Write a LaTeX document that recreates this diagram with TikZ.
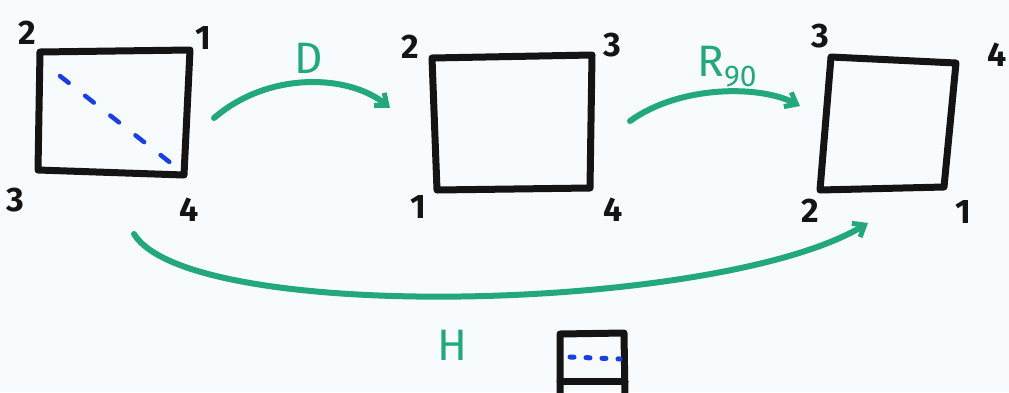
\documentclass[tikz,border=0pt]{standalone}
\usepackage{fontspec}
\setmainfont{Fira Sans}
\usetikzlibrary{arrows.meta}
\definecolor{mkgreen}{HTML}{22A87A}
\definecolor{mkblue}{HTML}{1A3FE0}
\definecolor{mkblack}{HTML}{141414}
\definecolor{board}{HTML}{F8FBFE}
\tikzset{
  sq/.style={draw=mkblack, line width=7pt, line join=round, line cap=round},
  diag/.style={draw=mkblue, line width=4.5pt, line cap=round, dash pattern=on 11pt off 21pt},
  dots/.style={draw=mkblue, line width=5pt, line cap=round, dash pattern=on 4pt off 12pt},
  garrow/.style={draw=mkgreen, line width=6pt, line cap=round, -{Straight Barb[length=10pt,width=16pt,line width=5pt]}},
  num/.style={text=mkblack, font=\fontsize{34}{34}\selectfont\bfseries, inner sep=0pt},
  glab/.style={text=mkgreen, font=\fontsize{44}{44}\selectfont, inner sep=0pt},
}
\begin{document}
\begin{tikzpicture}[x=1pt,y=-1pt]
\fill[board] (0,0) rectangle (1009,392);
\useasboundingbox (0,0) rectangle (1009,392);
% square 1
\coordinate (a2) at (40,52); \coordinate (a1) at (190,50);
\coordinate (a4) at (184,175); \coordinate (a3) at (38,170);
\draw[sq] (a2) -- (a1) -- (a4) -- (a3) -- cycle;
\coordinate (d1) at (60,76); \coordinate (d2) at (172,164);
\draw[diag] (d1) -- (d2);
\node[num] (n12) at (27,33) {2};
\node[num] (n11) at (203,38) {1};
\node[num] (n13) at (15,200) {3};
\node[num] (n14) at (189,210) {4};
% square 2
\coordinate (b2) at (432,58); \coordinate (b3) at (592,55);
\coordinate (b4) at (590,188); \coordinate (b1) at (437,190);
\draw[sq] (b2) -- (b3) -- (b4) -- (b1) -- cycle;
\node[num] (n22) at (410,47) {2};
\node[num] (n23) at (612,45) {3};
\node[num] (n21) at (418,207) {1};
\node[num] (n24) at (613,210) {4};
% square 3
\coordinate (c3) at (831,57); \coordinate (c4) at (956,63);
\coordinate (c1) at (944,187); \coordinate (c2) at (820,190);
\draw[sq] (c3) -- (c4) -- (c1) -- (c2) -- cycle;
\node[num] (n33) at (820,36) {3};
\node[num] (n34) at (997,55) {4};
\node[num] (n32) at (810,211) {2};
\node[num] (n31) at (963,212) {1};
% arrows
\coordinate (pD1) at (214,118); \coordinate (pD2) at (390,108);
\draw[garrow] (pD1) .. controls (270,70) and (350,75) .. (pD2);
\node[glab] (D) at (309,58) {D};
\coordinate (pR1) at (630,121); \coordinate (pR2) at (800,106);
\draw[garrow] (pR1) .. controls (680,85) and (760,85) .. (pR2);
\node[glab, anchor=base] (R) at (727,76) {R\raisebox{-10pt}{\fontsize{30}{30}\selectfont 90}};
\coordinate (pH1) at (134,234); \coordinate (pH2) at (868,223);
\draw[garrow] (pH1) .. controls (190,325) and (720,312) .. (pH2);
\node[glab] (H) at (452,345) {H};
% small square
\coordinate (e1) at (560,398); \coordinate (e2) at (560,334);
\coordinate (e3) at (624,333); \coordinate (e4) at (625,398);
\draw[sq] (e1) -- (e2) -- (e3) -- (e4);
\coordinate (e5) at (560,381); \coordinate (e6) at (625,381);
\draw[sq] (e5) -- (e6);
\coordinate (f1) at (570,357); \coordinate (f2) at (620,359);
\draw[dots] (f1) -- (f2);
\end{tikzpicture}
\end{document}
